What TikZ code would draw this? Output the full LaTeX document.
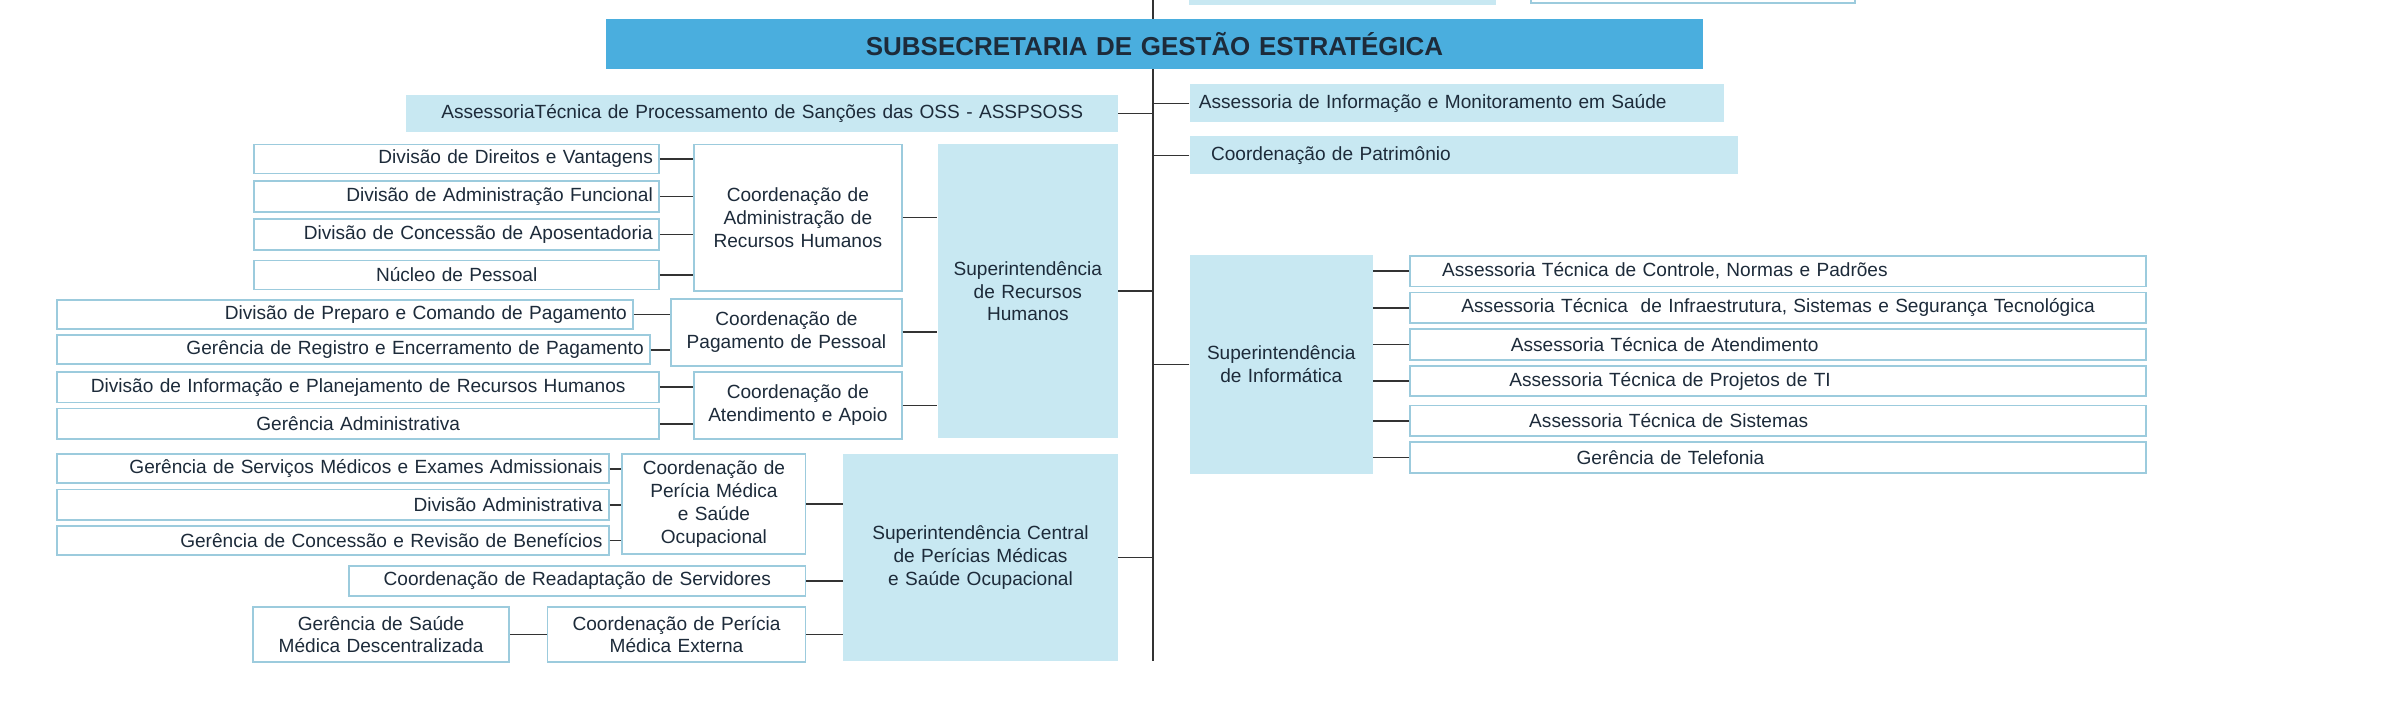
\documentclass[tikz,border=0pt]{standalone}
\usepackage{fontspec}
\setmainfont{Liberation Sans}
\definecolor{lb}{HTML}{C8E8F2}
\definecolor{bd}{HTML}{9CCBDD}
\definecolor{tb}{HTML}{4AAEDE}
\definecolor{ln}{HTML}{333333}
\definecolor{tx}{HTML}{1D2B3A}
\begin{document}
\begin{tikzpicture}[x=1pt,y=-1pt,
 base/.style={anchor=north west,inner xsep=4pt,inner ysep=0pt,font=\fontsize{12.5}{15}\selectfont,text=tx},
 wbox/.style={base,draw=bd,line width=1.2pt,fill=white},
 lbox/.style={base,fill=lb},
 conn/.style={draw=ln,line width=1pt}]
\useasboundingbox (0,0) rectangle (1568,462);
\begin{scope}
\clip (0,0) rectangle (1568,462);
\fill[lb] (779,-10) rectangle (980,3);
\draw[bd,line width=1.2pt,fill=white] (1003,-10) rectangle (1215,2);
\coordinate (mtop) at (755,0);
\coordinate (mbot) at (755,433);
\draw[conn] (mtop) -- (mbot);
\end{scope}
% title
\node[base,fill=tb,text width=710pt,minimum height=33pt,align=center,font=\fontsize{17}{20}\selectfont\bfseries] (title) at (397,12) {SUBSECRETARIA DE GESTÃO ESTRATÉGICA};
% left top
\node[lbox,text width=458pt,minimum height=24pt,align=center] (asp) at (266,62) {AssessoriaTécnica de Processamento de Sanções das OSS - ASSPSOSS};
\draw[conn] (asp.east) -- (asp.east -| mtop);
% right
\node[lbox,text width=338pt,minimum height=25pt,align=left,inner xsep=6pt] (aim) at (779,55) {Assessoria de Informação e Monitoramento em Saúde};
\node[lbox,text width=331pt,minimum height=25pt,align=left,inner xsep=14pt] (cpat) at (779,89) {Coordenação de Patrimônio};
\draw[conn] (aim.west) -- (aim.west -| mtop);
\draw[conn] (cpat.west) -- (cpat.west -| mtop);
% Super RH
\node[lbox,text width=110pt,minimum height=193pt,align=center] (srh) at (614,94) {\raisebox{15pt}{\parbox{110pt}{\centering Superintendência\\de Recursos\\Humanos}}};
\draw[conn] (srh.east) -- (srh.east -| mtop);
\node[wbox,text width=128pt,minimum height=96pt,align=center] (cadm) at (454,94) {Coordenação de\\Administração de\\Recursos Humanos};
\draw[conn] (cadm.east) -- (cadm.east -| srh.west);
\node[wbox,text width=257pt,minimum height=19pt,align=right] (d1) at (166,94) {Divisão de Direitos e Vantagens};
\node[wbox,text width=257pt,minimum height=20pt,align=right] (d2) at (166,118) {Divisão de Administração Funcional};
\node[wbox,text width=257pt,minimum height=20pt,align=right] (d3) at (166,143) {Divisão de Concessão de Aposentadoria};
\node[wbox,text width=257pt,minimum height=19pt,align=center] (d4) at (166,170) {Núcleo de Pessoal};
\foreach \n in {d1,d2,d3,d4} \draw[conn] (\n.east) -- (\n.east -| cadm.west);
\node[wbox,text width=143pt,minimum height=44pt,align=center] (cpag) at (439,195) {Coordenação de\\Pagamento de Pessoal};
\draw[conn] (cpag.east) -- (cpag.east -| srh.west);
\node[wbox,text width=369pt,minimum height=19pt,align=right] (p1) at (37,196) {Divisão de Preparo e Comando de Pagamento};
\node[wbox,text width=380pt,minimum height=19pt,align=right] (p2) at (37,219) {Gerência de Registro e Encerramento de Pagamento};
\foreach \n in {p1,p2} \draw[conn] (\n.east) -- (\n.east -| cpag.west);
\node[wbox,text width=128pt,minimum height=44pt,align=center] (cat) at (454,243) {Coordenação de\\Atendimento e Apoio};
\draw[conn] (cat.east) -- (cat.east -| srh.west);
\node[wbox,text width=386pt,minimum height=20pt,align=center] (a1) at (37,243) {Divisão de Informação e Planejamento de Recursos Humanos};
\node[wbox,text width=386pt,minimum height=20pt,align=center] (a2) at (37,267) {Gerência Administrativa};
\foreach \n in {a1,a2} \draw[conn] (\n.east) -- (\n.east -| cat.west);
% Super Central Pericias
\node[lbox,text width=172pt,minimum height=136pt,align=center] (spm) at (552,297) {Superintendência Central\\de Perícias Médicas\\e Saúde Ocupacional};
\draw[conn] (spm.east) -- (spm.east -| mtop);
\node[wbox,text width=112pt,minimum height=65pt,align=center] (cpm) at (407,297) {Coordenação de\\Perícia Médica\\e Saúde\\Ocupacional};
\draw[conn] (cpm.east) -- (cpm.east -| spm.west);
\node[wbox,text width=353pt,minimum height=19pt,align=right] (m1) at (37,297) {Gerência de Serviços Médicos e Exames Admissionais};
\node[wbox,text width=353pt,minimum height=20pt,align=right] (m2) at (37,320) {Divisão Administrativa};
\node[wbox,text width=353pt,minimum height=19pt,align=right] (m3) at (37,344) {Gerência de Concessão e Revisão de Benefícios};
\foreach \n in {m1,m2,m3} \draw[conn] (\n.east) -- (\n.east -| cpm.west);
\node[wbox,text width=291pt,minimum height=20pt,align=center] (crd) at (228,370) {Coordenação de Readaptação de Servidores};
\draw[conn] (crd.east) -- (crd.east -| spm.west);
\node[wbox,text width=161pt,minimum height=36pt,align=center] (cpe) at (358,397) {Coordenação de Perícia\\Médica Externa};
\draw[conn] (cpe.east) -- (cpe.east -| spm.west);
\node[wbox,text width=160pt,minimum height=36pt,align=center] (gsd) at (165,397) {Gerência de Saúde\\Médica Descentralizada};
\draw[conn] (gsd.east) -- (gsd.east -| cpe.west);
% Informatica
\node[lbox,text width=112pt,minimum height=143pt,align=center] (sinf) at (779,167) {\raisebox{-4pt}{\parbox{112pt}{\centering Superintendência\\de Informática}}};
\draw[conn] (sinf.west) -- (sinf.west -| mtop);
\node[wbox,text width=474pt,minimum height=20pt,align=left,inner xsep=4pt] (i1) at (923,167) {\hspace*{17pt}Assessoria Técnica de Controle, Normas e Padrões};
\node[wbox,text width=474pt,minimum height=20pt,align=center] (i2) at (923,191) {Assessoria Técnica \ de Infraestrutura, Sistemas e Segurança Tecnológica};
\node[wbox,text width=474pt,minimum height=20pt,align=left] (i3) at (923,215) {\hspace*{62pt}Assessoria Técnica de Atendimento};
\node[wbox,text width=474pt,minimum height=20pt,align=left] (i4) at (923,239) {\hspace*{61pt}Assessoria Técnica de Projetos de TI};
\node[wbox,text width=474pt,minimum height=20pt,align=left] (i5) at (923,265) {\hspace*{74pt}Assessoria Técnica de Sistemas};
\node[wbox,text width=474pt,minimum height=20pt,align=left] (i6) at (923,289) {\hspace*{105pt}Gerência de Telefonia};
\foreach \n in {i1,i2,i3,i4,i5,i6} \draw[conn] (\n.west) -- (\n.west -| sinf.east);
\end{tikzpicture}
\end{document}
